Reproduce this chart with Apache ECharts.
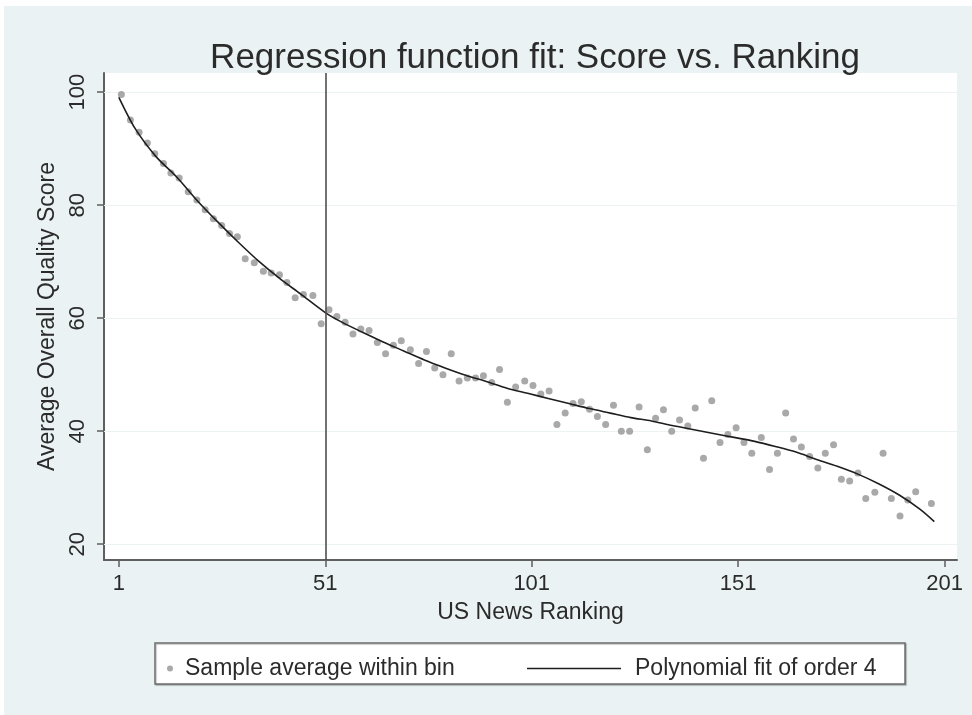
<!DOCTYPE html>
<html>
<head>
<meta charset="utf-8">
<script src="https://cdn.jsdelivr.net/npm/echarts@6/dist/echarts.min.js"></script>
<style>
  html, body { margin: 0; padding: 0; background: #ffffff; }
  #chart { width: 972px; height: 715px; }
</style>
</head>
<body>
<div id="chart"></div>
<script>
// Bin averages of the quality score (two ranks per bin)
const binRank = [
  1.6, 3.8, 5.9, 7.9, 9.7, 11.8, 13.6, 15.6, 17.8, 19.9,
  21.9, 23.9, 25.9, 27.8, 29.7, 31.6, 33.8, 36.0, 37.9, 39.9,
  41.7, 43.7, 45.7, 48.0, 50.0, 51.9, 53.8, 55.8, 57.7, 59.6,
  61.6, 63.6, 65.6, 67.5, 69.4, 71.6, 73.6, 75.5, 77.5, 79.5,
  81.5, 83.4, 85.4, 87.4, 89.3, 91.3, 93.2, 95.1, 97.1, 99.3,
  101.3, 103.2, 105.2, 107.1, 109.1, 111.0, 113.0, 115.0, 116.9, 118.9,
  120.8, 122.7, 124.7, 127.0, 129.0, 131.0, 132.9, 134.9, 136.8, 138.8,
  140.6, 142.6, 144.6, 146.6, 148.5, 150.5, 152.4, 154.3, 156.6, 158.6,
  160.5, 162.5, 164.4, 166.3, 168.3, 170.3, 172.1, 174.1, 176.0, 178.0,
  180.0, 181.9, 184.1, 186.1, 188.1, 190.2, 192.1, 194.0, 197.8
];
const binScore = [
  99.6, 95.1, 92.9, 91.0, 89.1, 87.4, 85.7, 84.8, 82.4, 80.9,
  79.2, 77.6, 76.4, 75.0, 74.4, 70.5, 69.8, 68.3, 68.0, 67.7,
  66.3, 63.6, 64.2, 64.0, 59.0, 61.5, 60.3, 59.3, 57.2, 58.1,
  57.8, 55.7, 53.7, 55.2, 56.0, 54.4, 52.0, 54.1, 51.2, 50.0,
  53.7, 48.9, 49.4, 49.4, 49.8, 48.6, 50.9, 45.1, 47.8, 48.9,
  48.1, 46.6, 47.1, 41.2, 43.2, 44.9, 45.2, 43.9, 42.6, 41.2,
  44.6, 40.0, 40.0, 44.3, 36.7, 42.3, 43.8, 40.0, 42.0, 40.9,
  44.1, 35.2, 45.4, 38.0, 39.4, 40.6, 38.0, 36.1, 38.9, 33.2,
  36.1, 43.2, 38.6, 37.2, 35.5, 33.5, 36.1, 37.6, 31.5, 31.2,
  32.6, 28.1, 29.2, 36.1, 28.1, 25.0, 27.8, 29.3, 27.2
];

// Fitted quartic curve, sampled along the ranking
const fitRank = [
  1, 5, 10, 15, 20, 25, 30, 35, 40, 45,
  51, 55, 60, 65, 70, 75, 80, 85, 90, 95,
  100, 105, 110, 115, 120, 125, 130, 135, 140, 145,
  150, 155, 160, 165, 170, 175, 180, 185, 190, 195, 198.5
];
const fitScore = [
  99.1, 93.5, 88.6, 85.0, 80.8, 77.0, 73.4, 70.0, 67.0, 64.3,
  61.0, 59.3, 57.5, 55.8, 54.2, 52.6, 51.2, 49.9, 48.8, 47.6,
  46.7, 45.8, 44.9, 44.0, 43.2, 42.4, 41.8, 41.0, 40.3, 39.6,
  38.9, 38.2, 37.3, 36.3, 35.0, 33.8, 32.4, 30.7, 28.7, 26.2, 24.0
];

const xTicks = [1, 51, 101, 151, 201];
const yTicks = [20, 40, 60, 80, 100];
const cutoffRank = 51;

const FONT = "'Liberation Sans', Arial, 'DejaVu Sans', sans-serif";
const TXT = '#2b2b2b';

const chart = echarts.init(document.getElementById('chart'), null, { renderer: 'canvas' });

chart.setOption({
  backgroundColor: '#ffffff',
  animation: false,
  textStyle: { fontFamily: FONT },
  graphic: [
    {
      type: 'rect', z: -10, silent: true,
      shape: { x: 4, y: 6, width: 968, height: 709 },
      style: { fill: '#eaf2f3' }
    },
    {
      type: 'rect', z: 1, silent: true,
      shape: { x: 155, y: 643, width: 750, height: 41 },
      style: { fill: '#ffffff', stroke: '#6e6e6e', lineWidth: 1.5,
               shadowColor: 'rgba(0,0,0,0.25)', shadowOffsetX: 1, shadowOffsetY: 1, shadowBlur: 1 }
    }
  ],
  title: {
    text: 'Regression function fit: Score vs. Ranking',
    left: 530,
    textAlign: 'center',
    top: 36,
    textStyle: { fontFamily: FONT, fontSize: 35, fontWeight: 'normal', color: TXT }
  },
  legend: [
    {
      data: [{ name: 'Sample average within bin', icon: 'circle' }],
      left: 162, top: 652, z: 5,
      itemWidth: 20, itemHeight: 6,
      textStyle: { fontFamily: FONT, fontSize: 23, color: TXT }
    },
    {
      data: [{ name: 'Polynomial fit of order 4', icon: 'rect' }],
      left: 522, top: 652, z: 5,
      itemWidth: 94, itemHeight: 1.6,
      textStyle: { fontFamily: FONT, fontSize: 23, color: TXT, padding: [0, 0, 0, 9] }
    }
  ],
  grid: {
    left: 104, right: 15, top: 73, bottom: 155,
    show: true, backgroundColor: '#ffffff', borderWidth: 0
  },
  xAxis: {
    type: 'value',
    min: -2.6, max: 204,
    name: 'US News Ranking',
    nameLocation: 'middle',
    nameGap: 41,
    nameTextStyle: { fontFamily: FONT, fontSize: 23, color: TXT },
    axisLine: { show: true, onZero: false, lineStyle: { color: '#5f5f5f', width: 2 } },
    axisTick: { show: true, length: 7, customValues: xTicks, lineStyle: { color: '#5f5f5f', width: 1.5 } },
    axisLabel: { customValues: xTicks, margin: 13, fontFamily: FONT, fontSize: 22, color: TXT },
    splitLine: { show: false }
  },
  yAxis: {
    type: 'value',
    min: 17.2, max: 103.4,
    name: 'Average Overall Quality Score',
    nameLocation: 'middle',
    nameGap: 45,
    nameRotate: 90,
    nameTextStyle: { fontFamily: FONT, fontSize: 23, color: TXT },
    axisLine: { show: true, onZero: false, lineStyle: { color: '#5f5f5f', width: 2 } },
    axisTick: { show: true, length: 7, customValues: yTicks, lineStyle: { color: '#5f5f5f', width: 1.5 } },
    axisLabel: { customValues: yTicks, rotate: 90, margin: 15, fontFamily: FONT, fontSize: 22, color: TXT },
    splitLine: { show: false }
  },
  series: [
    {
      name: 'Sample average within bin',
      type: 'scatter',
      z: 3,
      data: binRank.map((r, i) => [r, binScore[i]]),
      symbol: 'circle',
      symbolSize: 7,
      itemStyle: { color: '#939393' },
      markLine: {
        silent: true, z: 1,
        symbol: ['none', 'none'],
        label: { show: false },
        lineStyle: { color: '#edf2f3', width: 1.2, type: 'solid' },
        data: yTicks.map(v => ({ yAxis: v }))
      }
    },
    {
      name: 'Polynomial fit of order 4',
      type: 'line',
      z: 4,
      data: fitRank.map((r, i) => [r, fitScore[i]]),
      symbol: 'none',
      showSymbol: false,
      smooth: 0.3,
      lineStyle: { color: '#1e1e1e', width: 1.6 },
      itemStyle: { color: '#1e1e1e' },
      markLine: {
        silent: true,
        symbol: ['none', 'none'],
        label: { show: false },
        lineStyle: { color: '#4f4f4f', width: 1.6, type: 'solid' },
        data: [{ xAxis: cutoffRank }]
      }
    }
  ]
});
</script>
</body>
</html>
